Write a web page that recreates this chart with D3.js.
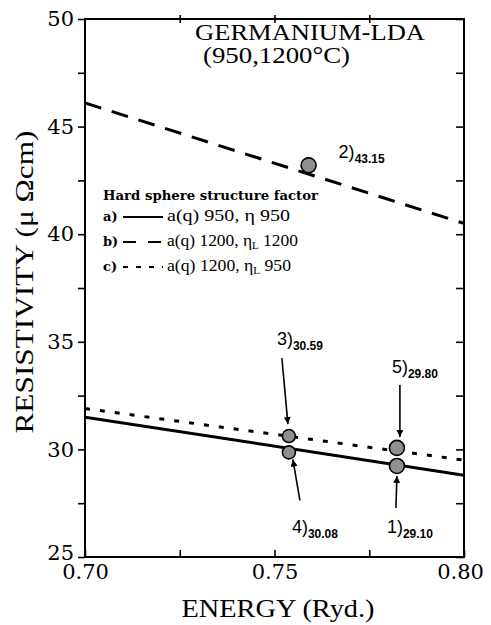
<!DOCTYPE html>
<html><head><meta charset="utf-8">
<script src="https://cdn.jsdelivr.net/npm/d3@7"></script>
<style>html,body{margin:0;padding:0;background:#fff;}svg{display:block;}</style>
</head><body>
<script>
// ---- data ----
const lineEnergy = [0.70, 0.80];
const seriesA = [31.5, 28.8];   // a) solid
const seriesB = [46.1, 40.5];   // b) dashed
const seriesC = [31.9, 29.5];   // c) dotted
const pointIds = ["1", "2", "3", "4", "5"];
const pointEnergy = [0.7823, 0.759, 0.7538, 0.7538, 0.7823];
const pointValue = [29.23, 43.2, 30.62, 29.86, 30.07];
const pointLabels = ["29.10", "43.15", "30.59", "30.08", "29.80"];
const yTicks = [25, 27.5, 30, 32.5, 35, 37.5, 40, 42.5, 45, 47.5, 50];
const xTicks = [0.70, 0.725, 0.75, 0.775, 0.80];
const xLabelled = [0.70, 0.75, 0.80];

const W = 491, H = 625;
const svg = d3.select("body").append("svg").attr("width", W).attr("height", H);
const x = d3.scaleLinear().domain([0.70, 0.80]).range([85, 464]);
const y = d3.scaleLinear().domain([25, 50]).range([557, 19]);
const serif = "'DejaVu Serif', serif";
const times = "'Liberation Serif', 'Times New Roman', serif";
const sans = "'Liberation Sans', Arial, sans-serif";

svg.append("defs").append("clipPath").attr("id", "clip")
  .append("rect").attr("x", 85).attr("y", 19).attr("width", 379).attr("height", 538);
const mk = svg.select("defs").append("marker").attr("id", "arr")
  .attr("viewBox", "0 0 10 10").attr("refX", 10).attr("refY", 5)
  .attr("markerWidth", 9).attr("markerHeight", 7).attr("markerUnits", "userSpaceOnUse")
  .attr("orient", "auto");
mk.append("path").attr("d", "M0,0 L10,5 L0,10 z").attr("fill", "#000");

// axes
const styleAxis = g => { g.select(".domain").remove(); g.selectAll("line").attr("stroke", "#000").attr("stroke-width", 1.6); };
const yl = svg.append("g").attr("transform", "translate(85,0)")
  .call(d3.axisLeft(y).tickValues(yTicks).tickSize(7).tickPadding(4).tickFormat(d => d % 5 === 0 ? d : ""))
  .call(styleAxis);
yl.selectAll("text").attr("font-family", serif).attr("font-size", 21).attr("fill", "#000");
yl.selectAll(".tick").filter(d => d === 25).select("text").attr("dy", "0.1em");
svg.append("g").attr("transform", "translate(464,0)")
  .call(d3.axisLeft(y).tickValues(yTicks).tickSize(8).tickFormat(""))
  .call(styleAxis);
const xb = svg.append("g").attr("transform", "translate(0,557)")
  .call(d3.axisBottom(x).tickValues(xTicks).tickSizeInner(-7).tickSizeOuter(0).tickPadding(7)
    .tickFormat(d => xLabelled.some(v => Math.abs(v - d) < 1e-9) ? d3.format(".2f")(d) : ""))
  .call(styleAxis);
xb.selectAll("text").attr("font-family", serif).attr("font-size", 21).attr("fill", "#000");
xb.selectAll(".tick").filter(d => Math.abs(d - 0.80) < 1e-9).select("text").attr("dx", -4);
svg.append("g").attr("transform", "translate(0,23)")
  .call(d3.axisTop(x).tickValues([0.725, 0.75, 0.775]).tickSize(8).tickFormat(""))
  .call(styleAxis);

// frame
svg.append("rect").attr("x", 85).attr("y", 19).attr("width", 379).attr("height", 538)
  .attr("fill", "none").attr("stroke", "#000").attr("stroke-width", 2);

// lines
const lineGen = d3.line().x(d => x(d[0])).y(d => y(d[1]));
const plot = svg.append("g").attr("clip-path", "url(#clip)");
const series = [
  {v: seriesA, dash: null},
  {v: seriesB, dash: "17,11"},
  {v: seriesC, dash: "5,10"}
];
series.forEach(s => {
  plot.append("path").datum(lineEnergy.map((e, i) => [e, s.v[i]]))
    .attr("d", lineGen).attr("fill", "none").attr("stroke", "#000").attr("stroke-width", 3)
    .attr("stroke-dasharray", s.dash);
});

// points
const pts = pointIds.map((id, i) => ({id, e: pointEnergy[i], v: pointValue[i], lab: pointLabels[i]}));
svg.append("g").selectAll("circle").data(pts).join("circle")
  .attr("cx", d => x(d.e)).attr("cy", d => y(d.v)).attr("r", d => d.id === "3" || d.id === "4" ? 6.5 : 7.5)
  .attr("fill", "#8f8f8f").attr("stroke", "#000").attr("stroke-width", 1.6);

// annotations (pixel offsets relative to each point)
const ann = {
  "1": {arrow: [-1, 42, 0, 10], lab: [-10, 67]},
  "2": {arrow: null, lab: [30, -7]},
  "3": {arrow: [-7, -78, -1, -12], lab: [-12, -91]},
  "4": {arrow: [11, 48, 4, 7], lab: [3, 81]},
  "5": {arrow: [3, -63, 3, -11], lab: [-5, -75]}
};
pts.forEach(d => {
  const cx = x(d.e), cy = y(d.v), a = ann[d.id];
  if (a.arrow) {
    svg.append("line").attr("x1", cx + a.arrow[0]).attr("y1", cy + a.arrow[1])
      .attr("x2", cx + a.arrow[2]).attr("y2", cy + a.arrow[3])
      .attr("stroke", "#000").attr("stroke-width", 1.6).attr("marker-end", "url(#arr)");
  }
  const t = svg.append("text").attr("x", cx + a.lab[0]).attr("y", cy + a.lab[1])
    .attr("font-family", sans).attr("font-size", 18).attr("fill", "#000");
  t.append("tspan").text(d.id + ")");
  t.append("tspan").attr("dy", 5).attr("font-size", 12).attr("font-weight", "bold").text(d.lab);
});

// title
svg.append("text").attr("x", 195).attr("y", 40).attr("font-family", times).attr("font-size", 23)
  .attr("textLength", 230).attr("lengthAdjust", "spacingAndGlyphs").text("GERMANIUM-LDA");
svg.append("text").attr("x", 203).attr("y", 63).attr("font-family", times).attr("font-size", 23)
  .attr("textLength", 147).attr("lengthAdjust", "spacingAndGlyphs").text("(950,1200°C)");

// axis titles
svg.append("text").attr("x", 278).attr("y", 617).attr("text-anchor", "middle")
  .attr("font-family", times).attr("font-size", 25).attr("textLength", 193).attr("lengthAdjust", "spacingAndGlyphs")
  .text("ENERGY (Ryd.)");
svg.append("text").attr("transform", "translate(33,282) rotate(-90)").attr("text-anchor", "middle")
  .attr("font-family", times).attr("font-size", 26).attr("textLength", 303).attr("lengthAdjust", "spacingAndGlyphs")
  .text("RESISTIVITY (μ Ωcm)");

// legend
const lg = svg.append("g");
lg.append("text").attr("x", 103).attr("y", 200).attr("font-family", serif).attr("font-weight", "bold")
  .attr("font-size", 13).attr("textLength", 215).attr("lengthAdjust", "spacingAndGlyphs")
  .text("Hard sphere structure factor");
const legRows = [
  {k: "a)", dash: null, txt: ["a(q)  950, η", "", " 950"], by: 221, len: 123},
  {k: "b)", dash: "13,12", txt: ["a(q) 1200, η", "L", " 1200"], by: 246, len: 131},
  {k: "c)", dash: "5,8", txt: ["a(q) 1200, η", "L", " 950"], by: 271, len: 124}
];
legRows.forEach(r => {
  lg.append("text").attr("x", 103).attr("y", r.by).attr("font-family", serif).attr("font-weight", "bold")
    .attr("font-size", 13).text(r.k);
  lg.append("line").attr("x1", 123).attr("x2", 163).attr("y1", r.by - 4).attr("y2", r.by - 4)
    .attr("stroke", "#000").attr("stroke-width", 2).attr("stroke-dasharray", r.dash);
  const t = lg.append("text").attr("x", 167).attr("y", r.by).attr("font-family", times)
    .attr("font-size", 16).attr("fill", "#000")
    .attr("textLength", r.len).attr("lengthAdjust", "spacingAndGlyphs");
  t.append("tspan").text(r.txt[0]);
  if (r.txt[1]) t.append("tspan").attr("dy", 3).attr("font-size", 10).text(r.txt[1]);
  t.append("tspan").attr("dy", r.txt[1] ? -3 : 0).text(r.txt[2]);
});
</script>
</body></html>
